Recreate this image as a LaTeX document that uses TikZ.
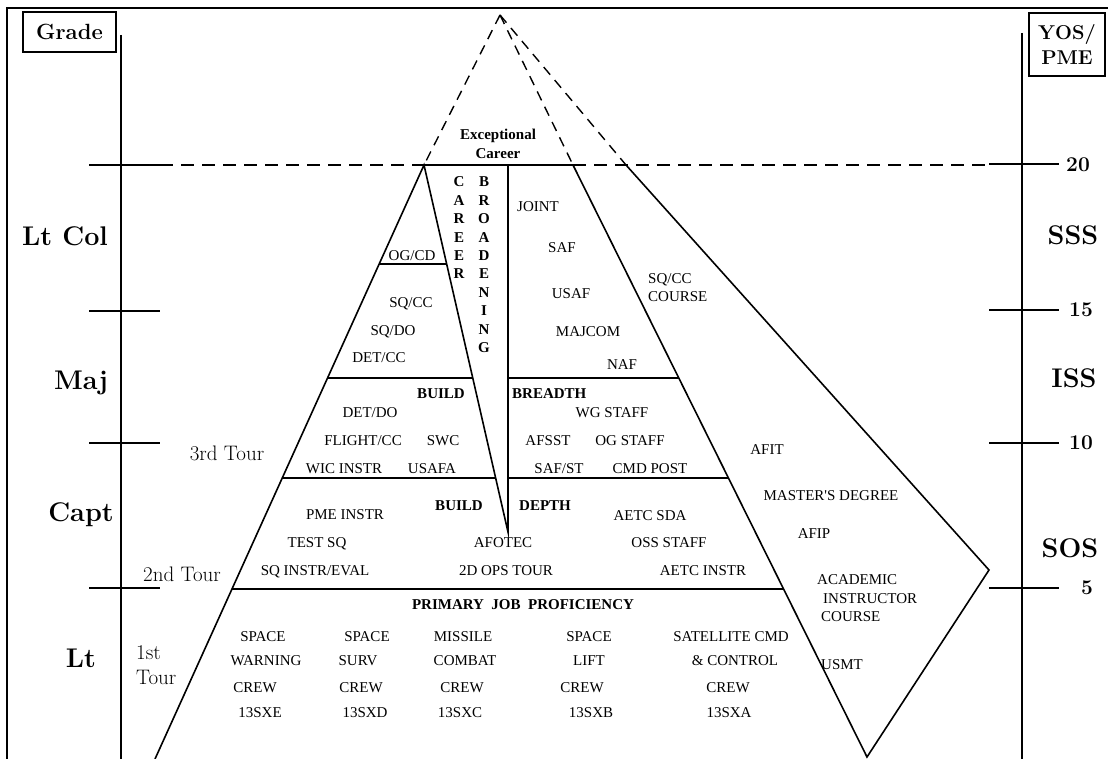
\documentclass[tikz,border=0pt]{standalone}
\usepackage{fontspec}
\newfontfamily\tnr{Liberation Serif}
\usetikzlibrary{positioning}

\begin{document}
\begin{tikzpicture}[x=1pt,y=-1pt,
    edge/.style={line width=1.6pt},
    dashedge/.style={line width=1.6pt,dash pattern=on 13pt off 8pt},
    apexdash/.style={line width=1.4pt,dash pattern=on 10pt off 7pt},
    tick/.style={line width=1.8pt},
    hdr/.style={draw,line width=1.4pt,inner sep=0pt,align=center,
      font=\fontsize{22}{25}\selectfont},
    rank/.style={inner sep=0pt,text height=18.5pt,text depth=0pt,
      font=\fontsize{27}{30}\selectfont\bfseries},
    yrs/.style={inner sep=0pt,text height=13.5pt,text depth=0pt,
      font=\fontsize{21}{24}\selectfont\bfseries},
    tour/.style={inner sep=0pt,text height=14.3pt,text depth=0pt,
      font=\fontsize{21}{24}\selectfont},
    job/.style={inner sep=0pt,text height=9.9pt,text depth=0pt,
      font=\tnr\fontsize{15}{17}\selectfont},
    bjob/.style={job,font=\tnr\fontsize{15}{17}\selectfont\bfseries}]

  \useasboundingbox (0,0) rectangle (1108,759);

  \coordinate (apex) at (500,15);
  \coordinate (pl)   at (424,165);
  \coordinate (pr)   at (573,165);
  \coordinate (kt)   at (626,165);
  \coordinate (kv)   at (989,570);
  \coordinate (pbl)  at (155,759);
  \coordinate (pbr)  at (867,757);
  \coordinate (ct)   at (508,165);
  \coordinate (cb)   at (508,532);

  \draw[line width=2.2pt] (7,759) -- (7,8) -- (1108,8);
  \draw[tick] (121,35) -- (121,759);
  \draw[tick] (1022,33) -- (1022,759);
  \foreach \y in {165,311,443,588}
    \draw[tick] (89,\y) -- (160,\y);
  \foreach \y in {164,310,443,588}
    \draw[tick] (989,\y) -- (1059,\y);

  \draw[dashedge] (160,165) -- (pl);
  \draw[edge] (pl) -- (pr);
  \draw[dashedge] (pr) -- (985,165);
  \foreach \p in {pl,pr,kt}
    \draw[apexdash] (apex) -- (\p);

  \draw[edge] (pbl) -- (pl) -- (cb) -- (ct);
  \draw[edge] (pr) -- (pbr) -- (kv) -- (kt);

  \draw[edge] (intersection of pl--pbl and 0,264--10,264)
    -- (intersection of pl--cb and 0,264--10,264);
  \foreach \y in {378,478} {
    \draw[edge] (intersection of pl--pbl and 0,\y--10,\y)
      -- (intersection of pl--cb and 0,\y--10,\y);
    \draw[edge] (508,\y) -- (intersection of pr--pbr and 0,\y--10,\y);
  }
  \draw[edge] (intersection of pl--pbl and 0,589--10,589)
    -- (intersection of pr--pbr and 0,589--10,589);

  \node[hdr,minimum width=93pt,minimum height=40pt] (grade) at (69.5,32) {\textbf{Grade}};
  \node[hdr,minimum width=76pt,minimum height=63pt,
    font=\fontsize{20}{25}\selectfont] (yospme) at (1067,44.5) {\textbf{YOS/}\\\textbf{PME}};

  \node[rank] (ltcol) at (65,236) {Lt Col};
  \node[rank] (maj)   at (81,380) {Maj};
  \node[rank] (capt)  at (81,512) {Capt};
  \node[rank] (lt)    at (81,658) {Lt};
  \node[rank] (sss)   at (1073,235) {SSS};
  \node[rank] (iss)   at (1074,378) {ISS};
  \node[rank] (sos)   at (1070,548) {SOS};

  \node[yrs] (y20) at (1078,165) {20};
  \node[yrs] (y15) at (1081,310) {15};
  \node[yrs] (y10) at (1081,443) {10};
  \node[yrs] (y5)  at (1087,588) {5};

  \node[tour] (tour3) at (227,453) {3rd Tour};
  \node[tour] (tour2) at (182,574) {2nd Tour};
  \node[tour,anchor=west] (tour1a) at (136,652) {1st};
  \node[tour,anchor=west] (tour1b) at (136,677) {Tour};

  \node[bjob] (except) at (498,135) {Exceptional};
  \node[bjob] (career) at (498,154) {Career};
  \foreach \c [count=\i] in {C,A,R,E,E,R}
    \node[bjob] (car\i) at (459,{182+18.4*(\i-1)}) {\c};
  \foreach \c [count=\i] in {B,R,O,A,D,E,N,I,N,G}
    \node[bjob] (brd\i) at (484,{182+18.4*(\i-1)}) {\c};

  \node[job] (ogcd)  at (412,256) {OG/CD};
  \node[job] (sqcc)  at (411,303) {SQ/CC};
  \node[job] (sqdo)  at (393,331) {SQ/DO};
  \node[job] (detcc) at (379,358) {DET/CC};
  \node[job] (joint) at (538,207) {JOINT};
  \node[job] (saf)   at (562,248) {SAF};
  \node[job] (usaf)  at (571,294) {USAF};
  \node[job] (majcom) at (588,332) {MAJCOM};
  \node[job] (naf)   at (622,365) {NAF};
  \node[job,anchor=west] (sqccc)  at (648,279) {SQ/CC};
  \node[job,anchor=west] (course) at (648,297) {COURSE};

  \node[bjob] (build1) at (441,394) {BUILD};
  \node[bjob,anchor=west] (breadth) at (512,394) {BREADTH};
  \node[job] (detdo)   at (370,413) {DET/DO};
  \node[job] (flight)  at (363,441) {FLIGHT/CC};
  \node[job] (swc)     at (443,441) {SWC};
  \node[job] (wic)     at (344,469) {WIC INSTR};
  \node[job] (usafa)   at (432,469) {USAFA};
  \node[job] (wgstaff) at (612,413) {WG STAFF};
  \node[job] (afsst)   at (548,441) {AFSST};
  \node[job] (ogstaff) at (630,441) {OG STAFF};
  \node[job] (safst)   at (559,469) {SAF/ST};
  \node[job] (cmdpost) at (650,469) {CMD POST};

  \node[bjob] (build2) at (459,506) {BUILD};
  \node[bjob,anchor=west] (depth) at (519,506) {DEPTH};
  \node[job] (pme)     at (345,515) {PME INSTR};
  \node[job] (testsq)  at (317,543) {TEST SQ};
  \node[job] (sqinstr) at (315,571) {SQ INSTR/EVAL};
  \node[job] (afotec)  at (503,543) {AFOTEC};
  \node[job] (ops2d)   at (506,571) {2D OPS TOUR};
  \node[job] (aetcsda) at (650,516) {AETC SDA};
  \node[job] (oss)     at (669,543) {OSS STAFF};
  \node[job] (aetci)   at (703,571) {AETC INSTR};

  \node[job] (afit)    at (767,450) {AFIT};
  \node[job] (masters) at (831,496) {MASTER'S DEGREE};
  \node[job] (afip)    at (814,534) {AFIP};
  \node[job,anchor=west] (acad)  at (817,580) {ACADEMIC};
  \node[job,anchor=west] (instr) at (823,599) {INSTRUCTOR};
  \node[job,anchor=west] (acrs)  at (821,617) {COURSE};
  \node[job] (usmt)    at (842,665) {USMT};

  \node[bjob] (pjp) at (523,605) {PRIMARY\ \ JOB\ \ PROFICIENCY};
  \foreach \t/\x/\y [count=\i] in {SPACE/263/637, WARNING/266/661, CREW/255/688, 13SXE/260/713,
      SPACE/367/637, SURV/358/661, CREW/361/688, 13SXD/365/713,
      MISSILE/463/637, COMBAT/465/661, CREW/462/688, 13SXC/460/713,
      SPACE/589/637, LIFT/589/661, CREW/582/688, 13SXB/591/713,
      SATELLITE CMD/731/637, \& CONTROL/735/661, CREW/728/688, 13SXA/729/713}
    \node[job] (crew\i) at (\x,\y) {\t};
\end{tikzpicture}
\end{document}
